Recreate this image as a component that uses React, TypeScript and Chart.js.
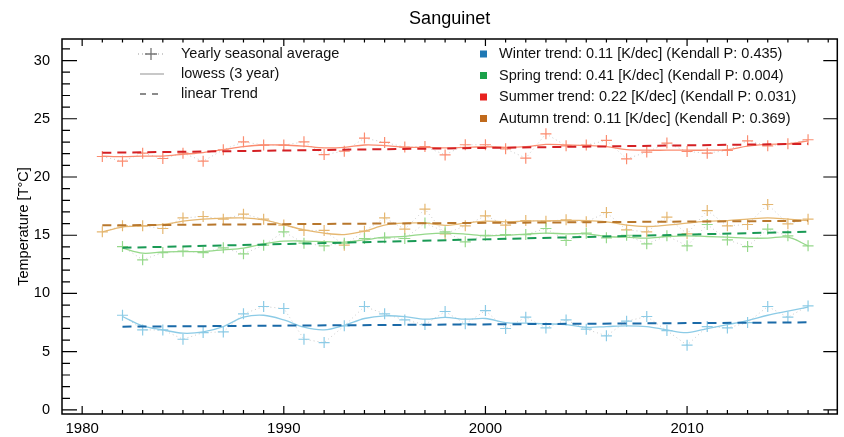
import React, { useEffect, useRef } from "react";
import { Chart, registerables } from "chart.js";

Chart.register(...registerables);

// ---------- data ----------
const years = [
  1981, 1982, 1983, 1984, 1985, 1986, 1987, 1988, 1989, 1990, 1991, 1992,
  1993, 1994, 1995, 1996, 1997, 1998, 1999, 2000, 2001, 2002, 2003, 2004,
  2005, 2006, 2007, 2008, 2009, 2010, 2011, 2012, 2013, 2014, 2015, 2016,
];

const winterAvg = [
  null, 8.13, 6.87, 6.87, 6.07, 6.64, 6.7, 8.25, 8.88, 8.71, 6.07, 5.78,
  7.22, 8.88, 8.25, 7.73, 7.33, 8.45, 7.39, 8.53, 6.99, 7.96, 7.04, 7.73,
  6.93, 6.36, 7.62, 8.02, 6.81, 5.56, 7.16, 7.04, 7.5, 8.88, 7.96, 8.93,
];
const winterLowess = [
  null, 8.02, 7.22, 6.87, 6.59, 6.7, 7.16, 7.96, 8.13, 7.73, 7.1, 6.87,
  7.27, 7.85, 8.08, 8.02, 7.79, 7.95, 7.79, 7.85, 7.5, 7.45, 7.39, 7.33,
  7.1, 7.16, 7.22, 7.16, 6.87, 6.64, 6.99, 7.33, 7.67, 8.13, 8.48, 8.82,
];
const winterTrendYears = [1982, 2016];
const winterTrend = [7.15, 7.52];

const springAvg = [
  null, 14.03, 12.89, 13.51, 13.63, 13.51, 13.92, 13.4, 14.15, 15.29, 14.32, 14.09,
  14.32, 14.72, 14.78, 14.72, 16.04, 15.29, 14.43, 15.0, 15.06, 15.06, 15.58, 14.55,
  15.18, 14.78, 15.0, 14.26, 14.95, 14.09, 15.92, 14.6, 14.03, 15.52, 14.95, 14.09,
];
const springLowess = [
  null, 13.89, 13.46, 13.57, 13.6, 13.6, 13.75, 13.9, 14.26, 14.49, 14.5, 14.45,
  14.4, 14.6, 14.83, 14.9, 15.1, 15.18, 15.1, 14.95, 15.0, 15.1, 15.18, 15.12,
  15.12, 14.89, 14.83, 14.75, 14.89, 14.95, 14.89, 14.83, 14.75, 14.75, 14.83, 14.09,
];
const springTrendYears = [1982, 2016];
const springTrend = [13.92, 15.3];

const summerAvg = [
  21.76, 21.36, 22.05, 21.59, 22.05, 21.36, 22.34, 23.02, 22.74, 22.74, 23.02, 21.93,
  22.22, 23.34, 22.97, 22.57, 22.62, 21.9, 22.77, 22.77, 22.42, 21.62, 23.71, 22.68,
  22.74, 23.14, 21.56, 22.14, 22.91, 22.19, 22.05, 22.28, 23.11, 22.68, 22.85, 23.2,
];
const summerLowess = [
  21.8, 21.75, 21.8, 21.8, 21.95, 22.1, 22.35, 22.6, 22.75, 22.75, 22.65, 22.5,
  22.55, 22.75, 22.7, 22.55, 22.55, 22.5, 22.55, 22.6, 22.55, 22.6, 22.8, 22.75,
  22.7, 22.6, 22.35, 22.3, 22.3, 22.3, 22.3, 22.35, 22.65, 22.8, 22.85, 23.1,
];
const summerTrendYears = [1981, 2016];
const summerTrend = [22.08, 22.85];

const autumnAvg = [
  15.29, 15.81, 15.81, 15.58, 16.49, 16.61, 16.38, 16.81, 16.38, 15.87, 15.41, 15.41,
  14.15, 15.35, 16.49, 15.52, 17.24, 15.12, 15.81, 16.67, 15.87, 16.26, 16.21, 16.32,
  16.15, 16.95, 15.46, 15.29, 16.55, 15.12, 17.12, 15.81, 15.92, 17.64, 15.98, 16.38,
];
const autumnLowess = [
  15.29, 15.7, 15.8, 15.92, 16.21, 16.38, 16.47, 16.49, 16.32, 15.9, 15.46, 15.18,
  15.06, 15.35, 15.87, 16.04, 16.04, 15.85, 16.04, 16.21, 16.15, 16.21, 16.24, 16.26,
  16.26, 16.15, 15.87, 15.75, 15.87, 16.04, 16.21, 16.26, 16.38, 16.49, 16.38, 16.26,
];
const autumnTrendYears = [1981, 2016];
const autumnTrend = [15.85, 16.24];

const seasonLabels = [
  "Winter trend: 0.11 [K/dec] (Kendall P: 0.435)",
  "Spring trend: 0.41 [K/dec] (Kendall P: 0.004)",
  "Summer trend: 0.22 [K/dec] (Kendall P: 0.031)",
  "Autumn trend: 0.11 [K/dec] (Kendall P: 0.369)",
];
const styleLabels = ["Yearly seasonal average", "lowess (3 year)", "linear Trend"];
const xTickValues = [1980, 1990, 2000, 2010];
const yTickValues = [0, 5, 10, 15, 20, 25, 30];

const TITLE = "Sanguinet";
const Y_TITLE = "Temperature [T°C]";

// ---------- styles ----------
const FONT = "'Liberation Sans', Arial, Helvetica, sans-serif";
const seasonStyles = [
  { key: "#1f78b4", dark: "#1a6aa8", light: "#8ccbe6" },
  { key: "#1aa14a", dark: "#1a9a55", light: "#95d88a" },
  { key: "#e8221f", dark: "#d42024", light: "#fb8c70" },
  { key: "#c06a1c", dark: "#b8772c", light: "#e5b771" },
];

function pts(xs: number[], ys: (number | null)[]) {
  return xs
    .map((x, i) => ({ x, y: ys[i] }))
    .filter((p) => p.y !== null && p.y !== undefined) as { x: number; y: number }[];
}

export default function App() {
  const ref = useRef<HTMLCanvasElement | null>(null);

  useEffect(() => {
    const canvas = ref.current;
    if (!canvas) return;

    const series = [
      { avg: winterAvg, low: winterLowess, ty: winterTrendYears, tv: winterTrend },
      { avg: springAvg, low: springLowess, ty: springTrendYears, tv: springTrend },
      { avg: summerAvg, low: summerLowess, ty: summerTrendYears, tv: summerTrend },
      { avg: autumnAvg, low: autumnLowess, ty: autumnTrendYears, tv: autumnTrend },
    ];

    const datasets: any[] = [];
    series.forEach((s, i) => {
      const st = seasonStyles[i];
      datasets.push({
        data: pts(s.ty, s.tv),
        showLine: true,
        borderColor: st.dark,
        borderWidth: 2,
        borderDash: [9, 6],
        pointRadius: 0,
        order: 0,
      });
      datasets.push({
        data: pts(years, s.low),
        showLine: true,
        borderColor: st.light,
        borderWidth: 1.3,
        tension: 0.35,
        pointRadius: 0,
        order: 1,
      });
      datasets.push({
        data: pts(years, s.avg),
        showLine: true,
        borderColor: "rgba(170,170,170,0.6)",
        borderWidth: 1,
        borderDash: [1, 3],
        pointStyle: "cross",
        pointRadius: 5.5,
        pointBorderColor: st.light,
        pointBorderWidth: 1.2,
        pointBackgroundColor: st.light,
        order: 2,
      });
    });

    const decorations = {
      id: "decorations",
      afterDraw(chart: any) {
        const ctx = chart.ctx as CanvasRenderingContext2D;
        const area = chart.chartArea;
        const xs = chart.scales.x;
        const ys = chart.scales.y;
        ctx.save();
        ctx.strokeStyle = "#000";
        ctx.lineWidth = 1.5;
        ctx.strokeRect(area.left, area.top, area.right - area.left, area.bottom - area.top);

        ctx.lineWidth = 1.2;
        ctx.beginPath();
        for (let yr = 1980; yr <= 2017; yr++) {
          const px = xs.getPixelForValue(yr);
          const major = yr % 10 === 0;
          ctx.moveTo(px, area.bottom);
          ctx.lineTo(px, area.bottom - (major ? 8 : 4));
          ctx.moveTo(px, area.top);
          ctx.lineTo(px, area.top + (major ? 7 : 3.5));
        }
        for (let v = 0; v <= 31; v++) {
          const py = ys.getPixelForValue(v);
          const major = v % 5 === 0;
          ctx.moveTo(area.left, py);
          ctx.lineTo(area.left + (major ? 15 : 8), py);
          if (major) {
            ctx.moveTo(area.right, py);
            ctx.lineTo(area.right - 14, py);
          }
        }
        ctx.stroke();

        // title
        ctx.fillStyle = "#000";
        ctx.font = `18px ${FONT}`;
        ctx.textAlign = "center";
        ctx.textBaseline = "middle";
        ctx.fillText(TITLE, (area.left + area.right) / 2, 19);

        // y title
        ctx.save();
        ctx.translate(24, (area.top + area.bottom) / 2);
        ctx.rotate(-Math.PI / 2);
        ctx.font = `14.5px ${FONT}`;
        ctx.fillText(Y_TITLE, 0, 0);
        ctx.restore();

        // left legend
        const lRows = [54, 74, 94];
        ctx.font = `14.5px ${FONT}`;
        ctx.textAlign = "left";
        ctx.fillStyle = "#111";
        styleLabels.forEach((t, i) => ctx.fillText(t, 181, lRows[i]));
        ctx.strokeStyle = "#999";
        ctx.lineWidth = 1;
        ctx.setLineDash([1, 3]);
        ctx.beginPath();
        ctx.moveTo(138, lRows[0]);
        ctx.lineTo(164, lRows[0]);
        ctx.stroke();
        ctx.setLineDash([]);
        ctx.strokeStyle = "#777";
        ctx.lineWidth = 1.3;
        ctx.beginPath();
        ctx.moveTo(151, lRows[0] - 6);
        ctx.lineTo(151, lRows[0] + 6);
        ctx.moveTo(145, lRows[0]);
        ctx.lineTo(157, lRows[0]);
        ctx.stroke();
        ctx.strokeStyle = "#aaa";
        ctx.lineWidth = 1.3;
        ctx.beginPath();
        ctx.moveTo(140, lRows[1]);
        ctx.lineTo(164, lRows[1]);
        ctx.stroke();
        ctx.strokeStyle = "#666";
        ctx.setLineDash([6, 6]);
        ctx.beginPath();
        ctx.moveTo(140, lRows[2]);
        ctx.lineTo(164, lRows[2]);
        ctx.stroke();
        ctx.setLineDash([]);

        // right legend
        const rRows = [54, 75.5, 97, 118.5];
        seasonLabels.forEach((t, i) => {
          ctx.fillStyle = seasonStyles[i].key;
          ctx.fillRect(480, rRows[i] - 3.5, 7, 7);
          ctx.fillStyle = "#111";
          ctx.fillText(t, 499, rRows[i]);
        });
        ctx.restore();
      },
    };

    const chart = new Chart(canvas, {
      type: "scatter",
      data: { datasets },
      options: {
        animation: false,
        responsive: false,
        events: [],
        layout: { padding: { left: 0, right: 3, top: 39, bottom: 0 } },
        plugins: { legend: { display: false }, tooltip: { enabled: false }, title: { display: false } },
        scales: {
          x: {
            type: "linear",
            min: 1979.0,
            max: 2017.45,
            grid: { display: false, drawTicks: false },
            border: { display: false },
            ticks: {
              color: "#000",
              font: { family: FONT, size: 15 },
              padding: 6,
              maxRotation: 0,
              callback: (v: any) => String(v),
            },
            afterBuildTicks: (axis: any) => {
              axis.ticks = xTickValues.map((v) => ({ value: v }));
            },
            afterFit: (axis: any) => {
              axis.height = 23;
            },
          },
          y: {
            type: "linear",
            min: -0.35,
            max: 31.85,
            grid: { display: false, drawTicks: false },
            border: { display: false },
            ticks: {
              color: "#000",
              font: { family: FONT, size: 14.5 },
              padding: 12,
              callback: (v: any) => String(v),
            },
            afterBuildTicks: (axis: any) => {
              axis.ticks = yTickValues.map((v) => ({ value: v }));
            },
            afterFit: (axis: any) => {
              axis.width = 62;
            },
          },
        },
      },
      plugins: [decorations],
    });

    return () => chart.destroy();
  }, []);

  return (
    <div style={{ position: "fixed", left: 0, top: 0, width: 844, height: 437, background: "#fff" }}>
      <canvas ref={ref} width={844} height={437} style={{ display: "block" }} />
    </div>
  );
}
